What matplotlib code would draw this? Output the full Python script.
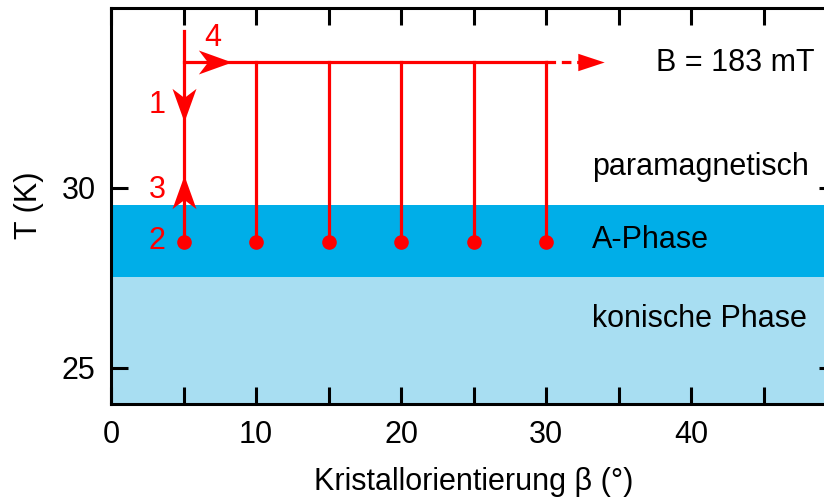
import matplotlib
matplotlib.use("Agg")
import matplotlib.pyplot as plt
from matplotlib.path import Path
from matplotlib.markers import MarkerStyle
from matplotlib.transforms import Affine2D

plt.rcParams['font.family'] = ['Liberation Sans', 'DejaVu Sans']

# data
angles = [5, 10, 15, 20, 25, 30]          # crystal orientation beta (deg)
T_start = 33.5                              # start temperature of field-cooled scans (K)
T_end = 28.5                                # measurement temperature (K)
T_top = 34.36                               # start of path 1
x_dash_end = 33.1                           # dashed continuation
a_phase = (27.5, 29.5)                      # A-phase band (K)
conical = (24.0, 27.5)                      # conical phase band (K)
xticks = [0, 10, 20, 30, 40]
yticks = [25, 30]

# arrow markers: (x, T, angle_deg)
dart_arrows = [(7.2, 33.5, 0), (5, 32.28, -90), (5, 29.875, 90)]
step_labels = ['1', '2', '3', '4']
step_pos = [(3.2, 32.28), (3.2, 28.5), (3.2, 29.92), (7.05, 34.14)]

FS = 22
RED = '#ff0000'
fig = plt.figure(figsize=(8.24, 4.99), dpi=100)
ax = fig.add_axes([111/824, 1 - 403.5/499, (836 - 111)/824, (403.5 - 7.5)/499])
ax.set_xlim(0, 50)
ax.set_ylim(24, 35)

ax.axhspan(*a_phase, color='#00aee8', lw=0, zorder=0)
ax.axhspan(*conical, color='#a8def2', lw=0, zorder=0)

lw = 2.3
# path 1: vertical at first angle
ax.plot([angles[0], angles[0]], [T_top, T_end], color=RED, lw=lw, zorder=2)
# horizontal line
ax.plot([angles[0], angles[-1]], [T_start, T_start], color=RED, lw=lw, zorder=2)
ax.plot([angles[-1], x_dash_end], [T_start, T_start], color=RED, lw=lw,
        dashes=(3, 1.8), zorder=2)
for a in angles[1:]:
    ax.plot([a, a], [T_start, T_end], color=RED, lw=lw, zorder=2)
ax.plot(angles, [T_end] * len(angles), 'o', color=RED, ms=9.5, zorder=3)

# dart-shaped arrow heads
dart = Path([(1, 0), (-1, 0.72), (-0.45, 0), (-1, -0.72), (1, 0)],
            [Path.MOVETO, Path.LINETO, Path.LINETO, Path.LINETO, Path.CLOSEPOLY])
for x, y, ang in dart_arrows:
    m = MarkerStyle(dart, transform=Affine2D().rotate_deg(ang))
    ax.plot([x], [y], marker=m, ms=24, color=RED, mec=RED, mew=0, ls='none', zorder=4)
tri = Path([(1, 0), (-1, 0.66), (-1, -0.66), (1, 0)],
           [Path.MOVETO, Path.LINETO, Path.LINETO, Path.CLOSEPOLY])
ax.plot([x_dash_end + 0.0], [T_start], marker=MarkerStyle(tri), ms=19, color=RED,
        mew=0, ls='none', zorder=4)

for lab, (x, y) in zip(step_labels, step_pos):
    ax.text(x, y, lab, color=RED, fontsize=FS, ha='center', va='center')

ax.text(37.6, 33.47, 'B = 183 mT', fontsize=FS, ha='left', va='center')
ax.text(33.2, 30.56, 'paramagnetisch', fontsize=FS, ha='left', va='center')
ax.text(33.2, 28.53, 'A-Phase', fontsize=FS, ha='left', va='center')
ax.text(33.2, 26.36, 'konische Phase', fontsize=FS, ha='left', va='center')

ax.set_xticks(xticks)
ax.set_xticks([5, 15, 25, 35, 45], minor=True)
ax.set_yticks(yticks)
for s in ax.spines.values():
    s.set_linewidth(2.2)
ax.tick_params(which='both', direction='in', length=12, width=2.2, top=True,
               right=True, labelsize=FS, pad=12)
ax.tick_params(axis='y', pad=11)
ax.set_xlabel('Kristallorientierung β (°)', fontsize=FS, labelpad=12)
ax.set_ylabel('T (K)', fontsize=FS, labelpad=13)

fig.savefig('out.png', dpi=100)
